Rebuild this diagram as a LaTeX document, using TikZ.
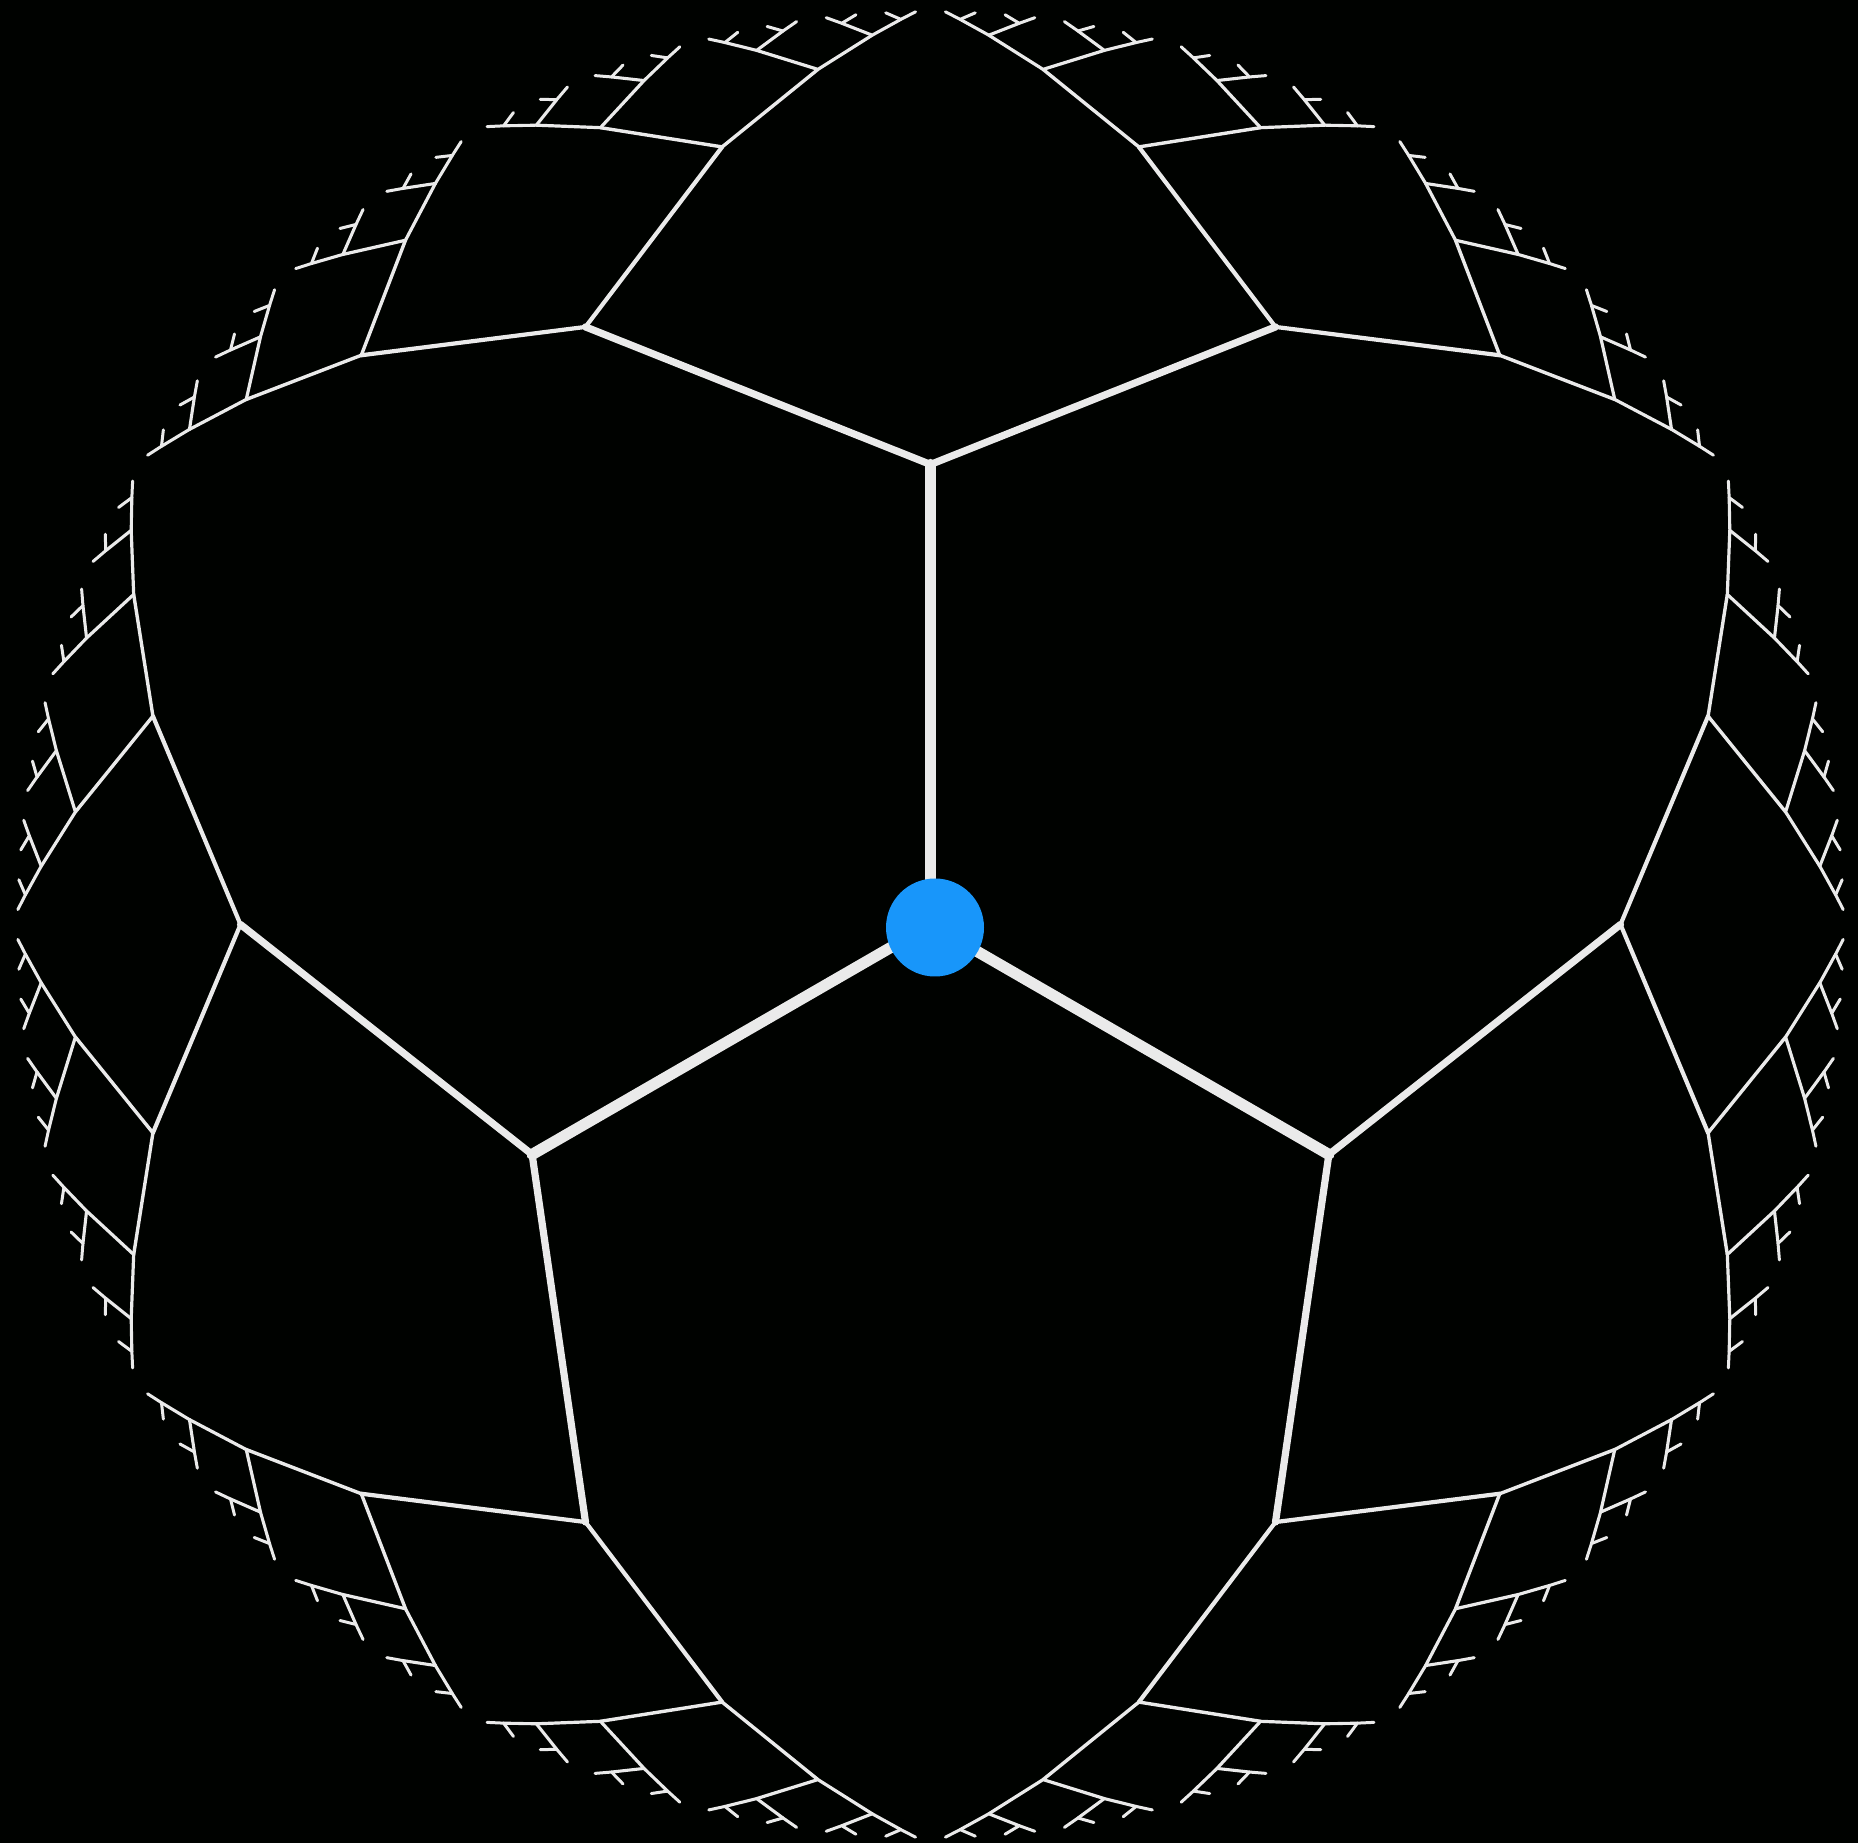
\documentclass[tikz,border=0pt]{standalone}
\definecolor{hubblue}{RGB}{24,150,250}
\definecolor{edgegray}{RGB}{234,234,234}
\definecolor{bgcol}{RGB}{0,2,0}
\tikzset{
  edge/.style={draw=edgegray, line cap=round, line join=round},
  w0/.style={line width=5.6pt},
  w1/.style={line width=3.6pt},
  w2/.style={line width=2.1pt},
  w3/.style={line width=1.7pt},
  w4/.style={line width=1.6pt},
  w5/.style={line width=1.55pt},
  w6/.style={line width=1.5pt},
  hubdot/.style={circle, fill=hubblue, inner sep=0pt, minimum size=49pt}
}
\newcommand\TRad{920}
% #1 depth of this vertex, #2 its angle, #3 half of its sector, #4 its id
\newcommand\treebranch[4]{%
  \ifnum#1<7\relax
    \pgfmathsetmacro\hh{#3/2}%
    \pgfmathsetmacro\aL{#2+\hh}%
    \pgfmathsetmacro\aR{#2-\hh}%
    \pgfmathsetmacro\rr{\TRad*(1-2^(-(#1+1)))}%
    \coordinate (v#4L) at (\aL:\rr);
    \coordinate (v#4R) at (\aR:\rr);
    \draw[edge, w#1] (v#4L) -- (v#4) -- (v#4R);
    \edef\next{\noexpand\treebranch{\the\numexpr#1+1\relax}{\aL}{\hh}{#4L}%
      \noexpand\treebranch{\the\numexpr#1+1\relax}{\aR}{\hh}{#4R}}%
    \next
  \fi}
\begin{document}
\begin{tikzpicture}[x=0.5pt, y=0.5pt]
\fill[bgcol] (0,0) rectangle (1858,1843);
\useasboundingbox (0,0) rectangle (1858,1843);
\begin{scope}[shift={(930.5,918.5)}]
  \coordinate (vc) at (0,0);
  \coordinate (va) at (90:460);
  \coordinate (vb) at (210:460);
  \coordinate (vd) at (330:460);
  \draw[edge, w0] (vc) -- (va);
  \draw[edge, w0] (vc) -- (vb);
  \draw[edge, w0] (vc) -- (vd);
  \treebranch{1}{90}{60}{a}
  \treebranch{1}{210}{60}{b}
  \treebranch{1}{330}{60}{d}
  \node[hubdot] (hub) at (4.5,-3) {};
\end{scope}
\end{tikzpicture}
\end{document}
